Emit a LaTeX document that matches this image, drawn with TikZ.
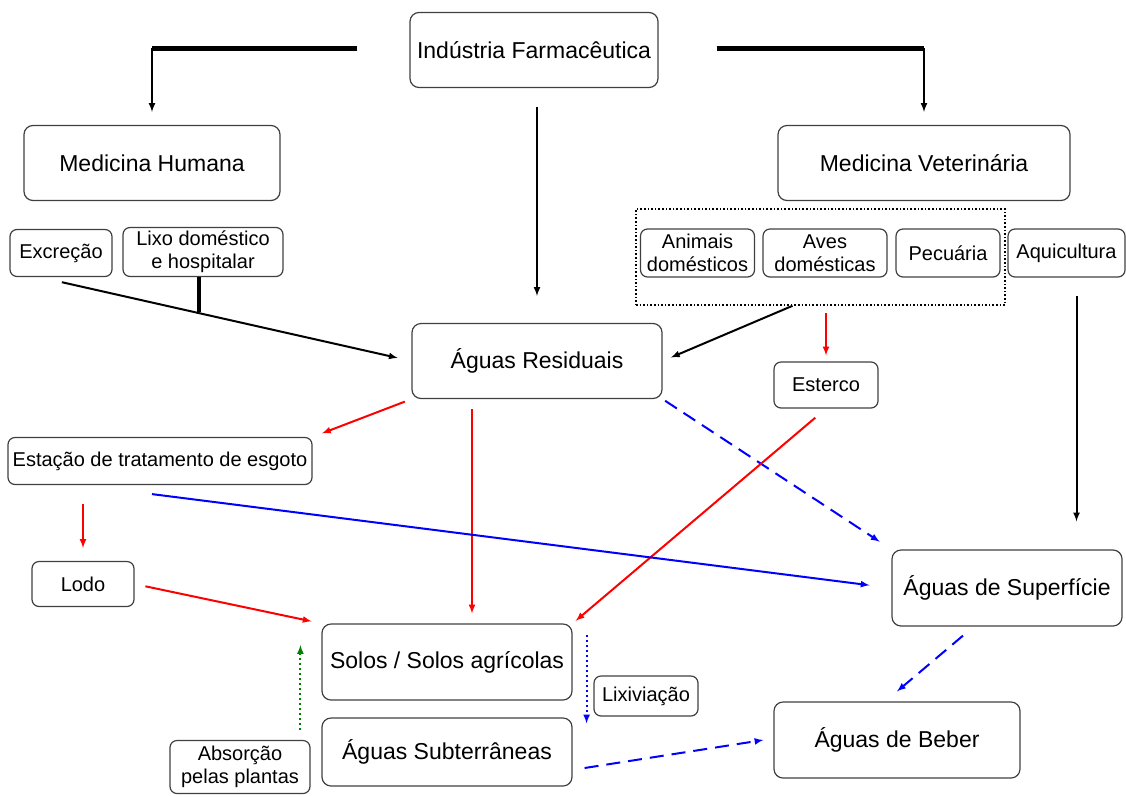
\documentclass[tikz,border=0pt]{standalone}
\usepackage{fontspec}
\setmainfont{Liberation Sans}
\usetikzlibrary{shapes,arrows,calc}
\tikzstyle{block} = [draw=black!75, line width=1.2pt, rectangle, rounded corners=9pt,
    align=center, font=\fontsize{23}{27}\selectfont]
\tikzstyle{tagbox} = [block, rounded corners=7pt, inner sep=2pt,
    font=\fontsize{20}{23}\selectfont]
\tikzstyle{grpbox} = [draw, dotted, line width=1.6pt, rectangle]
\tikzstyle{arr} = [->, >=latex, line width=2pt]
\tikzstyle{heavy} = [line width=5pt]
\tikzstyle{redarr} = [arr, red]
\tikzstyle{bluearr} = [arr, blue]
\tikzstyle{bluedash} = [arr, blue, dash pattern=on 14pt off 8pt]
\tikzstyle{bluedot} = [arr, blue, dash pattern=on 2pt off 3pt]
\tikzstyle{greendot} = [arr, green!50!black, dash pattern=on 2pt off 3pt]

\begin{document}
\begin{tikzpicture}[x=1pt, y=-1pt]
\useasboundingbox (0,0) rectangle (1126,796);

% sources
\node[block, minimum width=248pt, minimum height=75pt] (ind) at (534,50) {Indústria Farmacêutica};
\node[block, minimum width=256pt, minimum height=75pt] (medh) at (152,163) {Medicina Humana};
\node[block, minimum width=292pt, minimum height=75pt] (medv) at (924,163) {Medicina Veterinária};

\node[tagbox, minimum width=102pt, minimum height=47pt] (exc) at (61,253) {Excreção};
\node[tagbox, minimum width=160pt, minimum height=49pt] (lixo) at (203,252) {Lixo doméstico\\ e hospitalar};

\node[grpbox, minimum width=369pt, minimum height=96pt] (grp) at (820.5,257) {};
\node[tagbox, minimum width=114pt, minimum height=48pt] (ani) at (697.5,253) {Animais\\ domésticos};
\node[tagbox, minimum width=124pt, minimum height=48pt] (aves) at (825,253) {Aves\\ domésticas};
\node[tagbox, minimum width=104pt, minimum height=48pt] (pec) at (948,253) {Pecuária};
\node[tagbox, minimum width=117pt, minimum height=48pt] (aqui) at (1066.5,253) {Aquicultura};

% waters and soils
\node[block, minimum width=250pt, minimum height=75pt] (res) at (537,361) {Águas Residuais};
\node[tagbox, minimum width=104pt, minimum height=46pt] (est) at (826,385) {Esterco};
\node[tagbox, minimum width=304pt, minimum height=47pt] (ete) at (160,461) {Estação de tratamento de esgoto};
\node[tagbox, minimum width=102pt, minimum height=45pt] (lodo) at (83,584) {Lodo};
\node[block, minimum width=230pt, minimum height=76pt] (sup) at (1007,588) {Águas de Superfície};
\node[block, minimum width=250pt, minimum height=76pt] (solos) at (447,662) {Solos / Solos agrícolas};
\node[block, minimum width=250pt, minimum height=68pt] (sub) at (447,752) {Águas Subterrâneas};
\node[tagbox, minimum width=140pt, minimum height=53pt] (abs) at (240,767) {Absorção\\ pelas plantas};
\node[tagbox, minimum width=104pt, minimum height=40pt] (lix) at (646,696) {Lixiviação};
\node[block, minimum width=246pt, minimum height=76pt] (beb) at (897,740) {Águas de Beber};

% industry
\coordinate (ind-l) at ($(ind.west)+(-52,-2)$);
\coordinate (ind-r) at ($(ind.east)+(58,-2)$);
\draw[heavy] (ind-l) -- (ind-l -| medh.north);
\draw[arr, shorten >=13pt] (ind-l -| medh.north) -- (medh.north);
\draw[heavy] (ind-r) -- (ind-r -| medv.north);
\draw[arr, shorten >=13pt] (ind-r -| medv.north) -- (medv.north);
\draw[arr, shorten <=19pt, shorten >=27pt] (res.north |- ind.south) -- (res.north);

% human medicine
\draw[arr, shorten <=5pt, shorten >=14pt] ($(exc.south)+(-4,4)$) -- (res.west);
\coordinate (join) at ($(exc.south)!(lixo.south)!(res.west)$);
\draw[line width=4pt] ($(lixo.south)+(-4,0)$) -- ($(lixo.south |- join)+(-4,3)$);

% veterinary
\draw[arr, shorten >=9pt] ($(grp.south)+(-28,0)$) -- (res.east);
\draw[redarr, shorten <=7pt, shorten >=6pt] (est.north |- grp.south) -- (est.north);
\coordinate (aqui-s) at ($(aqui.south)+(10,0)$);
\draw[arr, shorten <=18pt, shorten >=28pt] (aqui-s) -- (aqui-s |- sup.north);

% flows
\draw[redarr, shorten <=7pt, shorten >=10pt] (res.south west) -- (ete.north east);
\draw[redarr] ($(res.south)+(-65,10)$) -- ($(solos.north)+(25,-10)$);
\draw[bluedash, shorten <=3pt, shorten >=14pt] (res.south east) -- (sup.north west);
\draw[redarr, shorten <=14pt, shorten >=4pt] (est.south) -- (solos.north east);
\draw[redarr, shorten <=19pt, shorten >=13pt] (lodo.north |- ete.south) -- (lodo.north);
\draw[bluearr, shorten >=22pt] ($(ete.south)+(-8,9)$) -- (sup.west);
\draw[redarr, shorten <=11pt, shorten >=10pt] (lodo.east) -- (solos.north west);
\draw[bluedash] ($(sup.south)+(-44,9)$) -- ($(beb.north)+(0,-10)$);
\draw[bluedot] ($(solos.north east)+(14,12)$) -- ($(sub.north east)+(14,6)$);
\draw[greendot] ($(sub.west)+(-21,-22)$) -- ($(solos.west)+(-21,-17)$);
\draw[bluedash] ($(sub.east)+(12,16)$) -- ($(beb.west)+(-10,0)$);

\end{tikzpicture}
\end{document}
